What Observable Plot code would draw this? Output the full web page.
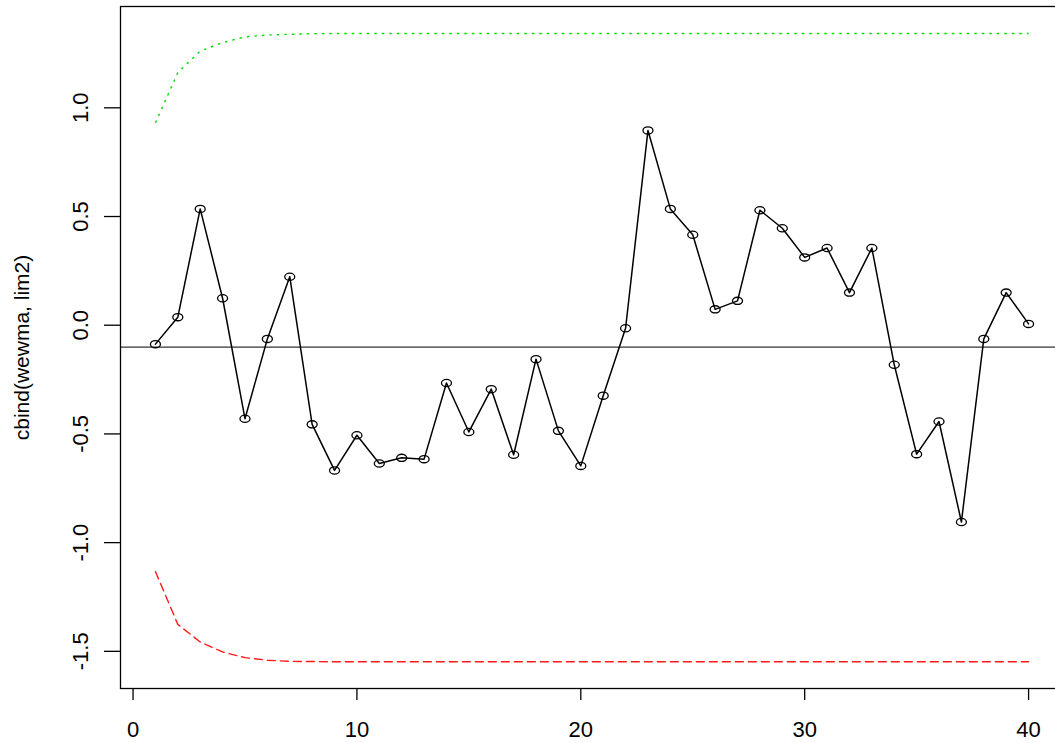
<!DOCTYPE html>
<html>
<head>
<meta charset="utf-8">
<script src="https://cdn.jsdelivr.net/npm/d3@7"></script>
<script src="https://cdn.jsdelivr.net/npm/@observablehq/plot@0.6"></script>
<style>
  html, body { margin: 0; padding: 0; background: #fff; overflow: hidden; }
</style>
</head>
<body>
<div id="chart"></div>
<script>
// ---- data ----
const xs = d3.range(1, 41);
const wewma = [-0.087, 0.037, 0.535, 0.124, -0.430, -0.063, 0.223, -0.456, -0.668, -0.506,
  -0.636, -0.610, -0.616, -0.266, -0.491, -0.294, -0.596, -0.156, -0.486, -0.647,
  -0.324, -0.014, 0.896, 0.535, 0.416, 0.073, 0.112, 0.529, 0.446, 0.312,
  0.355, 0.150, 0.355, -0.182, -0.593, -0.443, -0.905, -0.063, 0.150, 0.006];
const upper = [0.931, 1.162, 1.261, 1.300, 1.326, 1.335, 1.338, 1.341, 1.342, 1.342,
  1.342, 1.342, 1.342, 1.342, 1.342, 1.342, 1.342, 1.342, 1.342, 1.342,
  1.342, 1.342, 1.342, 1.342, 1.342, 1.342, 1.342, 1.342, 1.342, 1.342,
  1.342, 1.342, 1.342, 1.342, 1.342, 1.342, 1.342, 1.342, 1.342, 1.342];
const lower = [-1.133, -1.376, -1.457, -1.503, -1.529, -1.541, -1.546, -1.547, -1.548, -1.548,
  -1.548, -1.548, -1.548, -1.548, -1.548, -1.548, -1.548, -1.548, -1.548, -1.548,
  -1.548, -1.548, -1.548, -1.548, -1.548, -1.548, -1.548, -1.548, -1.548, -1.548,
  -1.548, -1.548, -1.548, -1.548, -1.548, -1.548, -1.548, -1.548, -1.548, -1.548];
const center = -0.101;
const xTicks = [0, 10, 20, 30, 40];
const yTicks = [-1.5, -1.0, -0.5, 0.0, 0.5, 1.0];
const yTickLabels = ["-1.5", "-1.0", "-0.5", "0.0", "0.5", "1.0"];
const yLabel = "cbind(wewma, lim2)";

const table = xs.map((x, i) => ({x, wewma: wewma[i], upper: upper[i], lower: lower[i]}));

// open ellipse symbol (R pch = 1 as it appears in the picture)
const ellipse = {
  draw(ctx) {
    const rx = 5, ry = 3.6, k = 0.5523;
    ctx.moveTo(rx, 0);
    ctx.bezierCurveTo(rx, ry * k, rx * k, ry, 0, ry);
    ctx.bezierCurveTo(-rx * k, ry, -rx, ry * k, -rx, 0);
    ctx.bezierCurveTo(-rx, -ry * k, -rx * k, -ry, 0, -ry);
    ctx.bezierCurveTo(rx * k, -ry, rx, -ry * k, rx, 0);
    ctx.closePath();
  }
};

const chart = Plot.plot({
  width: 1063,
  height: 743,
  marginLeft: 120,
  marginRight: 0,
  marginTop: 6,
  marginBottom: 55,
  style: {fontFamily: "'Liberation Sans', Arial, sans-serif", fontSize: "22px", background: "#fff", maxWidth: "none", overflow: "visible"},
  x: {domain: [-0.56, 41.56], label: null},
  y: {domain: [-1.671, 1.466], label: null},
  marks: [
    Plot.axisX({ticks: xTicks, tickSize: 12, tickPadding: 21, label: null, fontSize: 22, stroke: "#000", strokeWidth: 1.3}),
    Plot.axisY({ticks: yTicks, tickSize: 16, tickFormat: () => "", label: null, stroke: "#000", strokeWidth: 1.3}),
    Plot.text(yTicks, {y: d => d, text: (d, i) => yTickLabels[i], frameAnchor: "left", dx: -40,
      rotate: -90, textAnchor: "middle", lineAnchor: "middle", fontSize: 22, fill: "#000"}),
    Plot.text([yLabel], {text: d => d, frameAnchor: "left", dx: -98, rotate: -90,
      textAnchor: "middle", lineAnchor: "middle", fontSize: 21, fill: "#000"}),
    Plot.ruleY([center], {stroke: "#333", strokeWidth: 1.2}),
    Plot.line(table, {x: "x", y: "upper", stroke: "#00dd00", strokeWidth: 1.4, strokeDasharray: "2.5,5", strokeLinecap: "butt"}),
    Plot.line(table, {x: "x", y: "lower", stroke: "#ff1a1a", strokeWidth: 1.4, strokeDasharray: "8,5"}),
    Plot.line(table, {x: "x", y: "wewma", stroke: "#000", strokeWidth: 1.5}),
    Plot.dot(table, {x: "x", y: "wewma", symbol: ellipse, stroke: "#000", fill: "none", strokeWidth: 1.3}),
    Plot.frame({stroke: "#000", strokeWidth: 1.3})
  ]
});
document.getElementById("chart").appendChild(chart);
</script>
</body>
</html>
